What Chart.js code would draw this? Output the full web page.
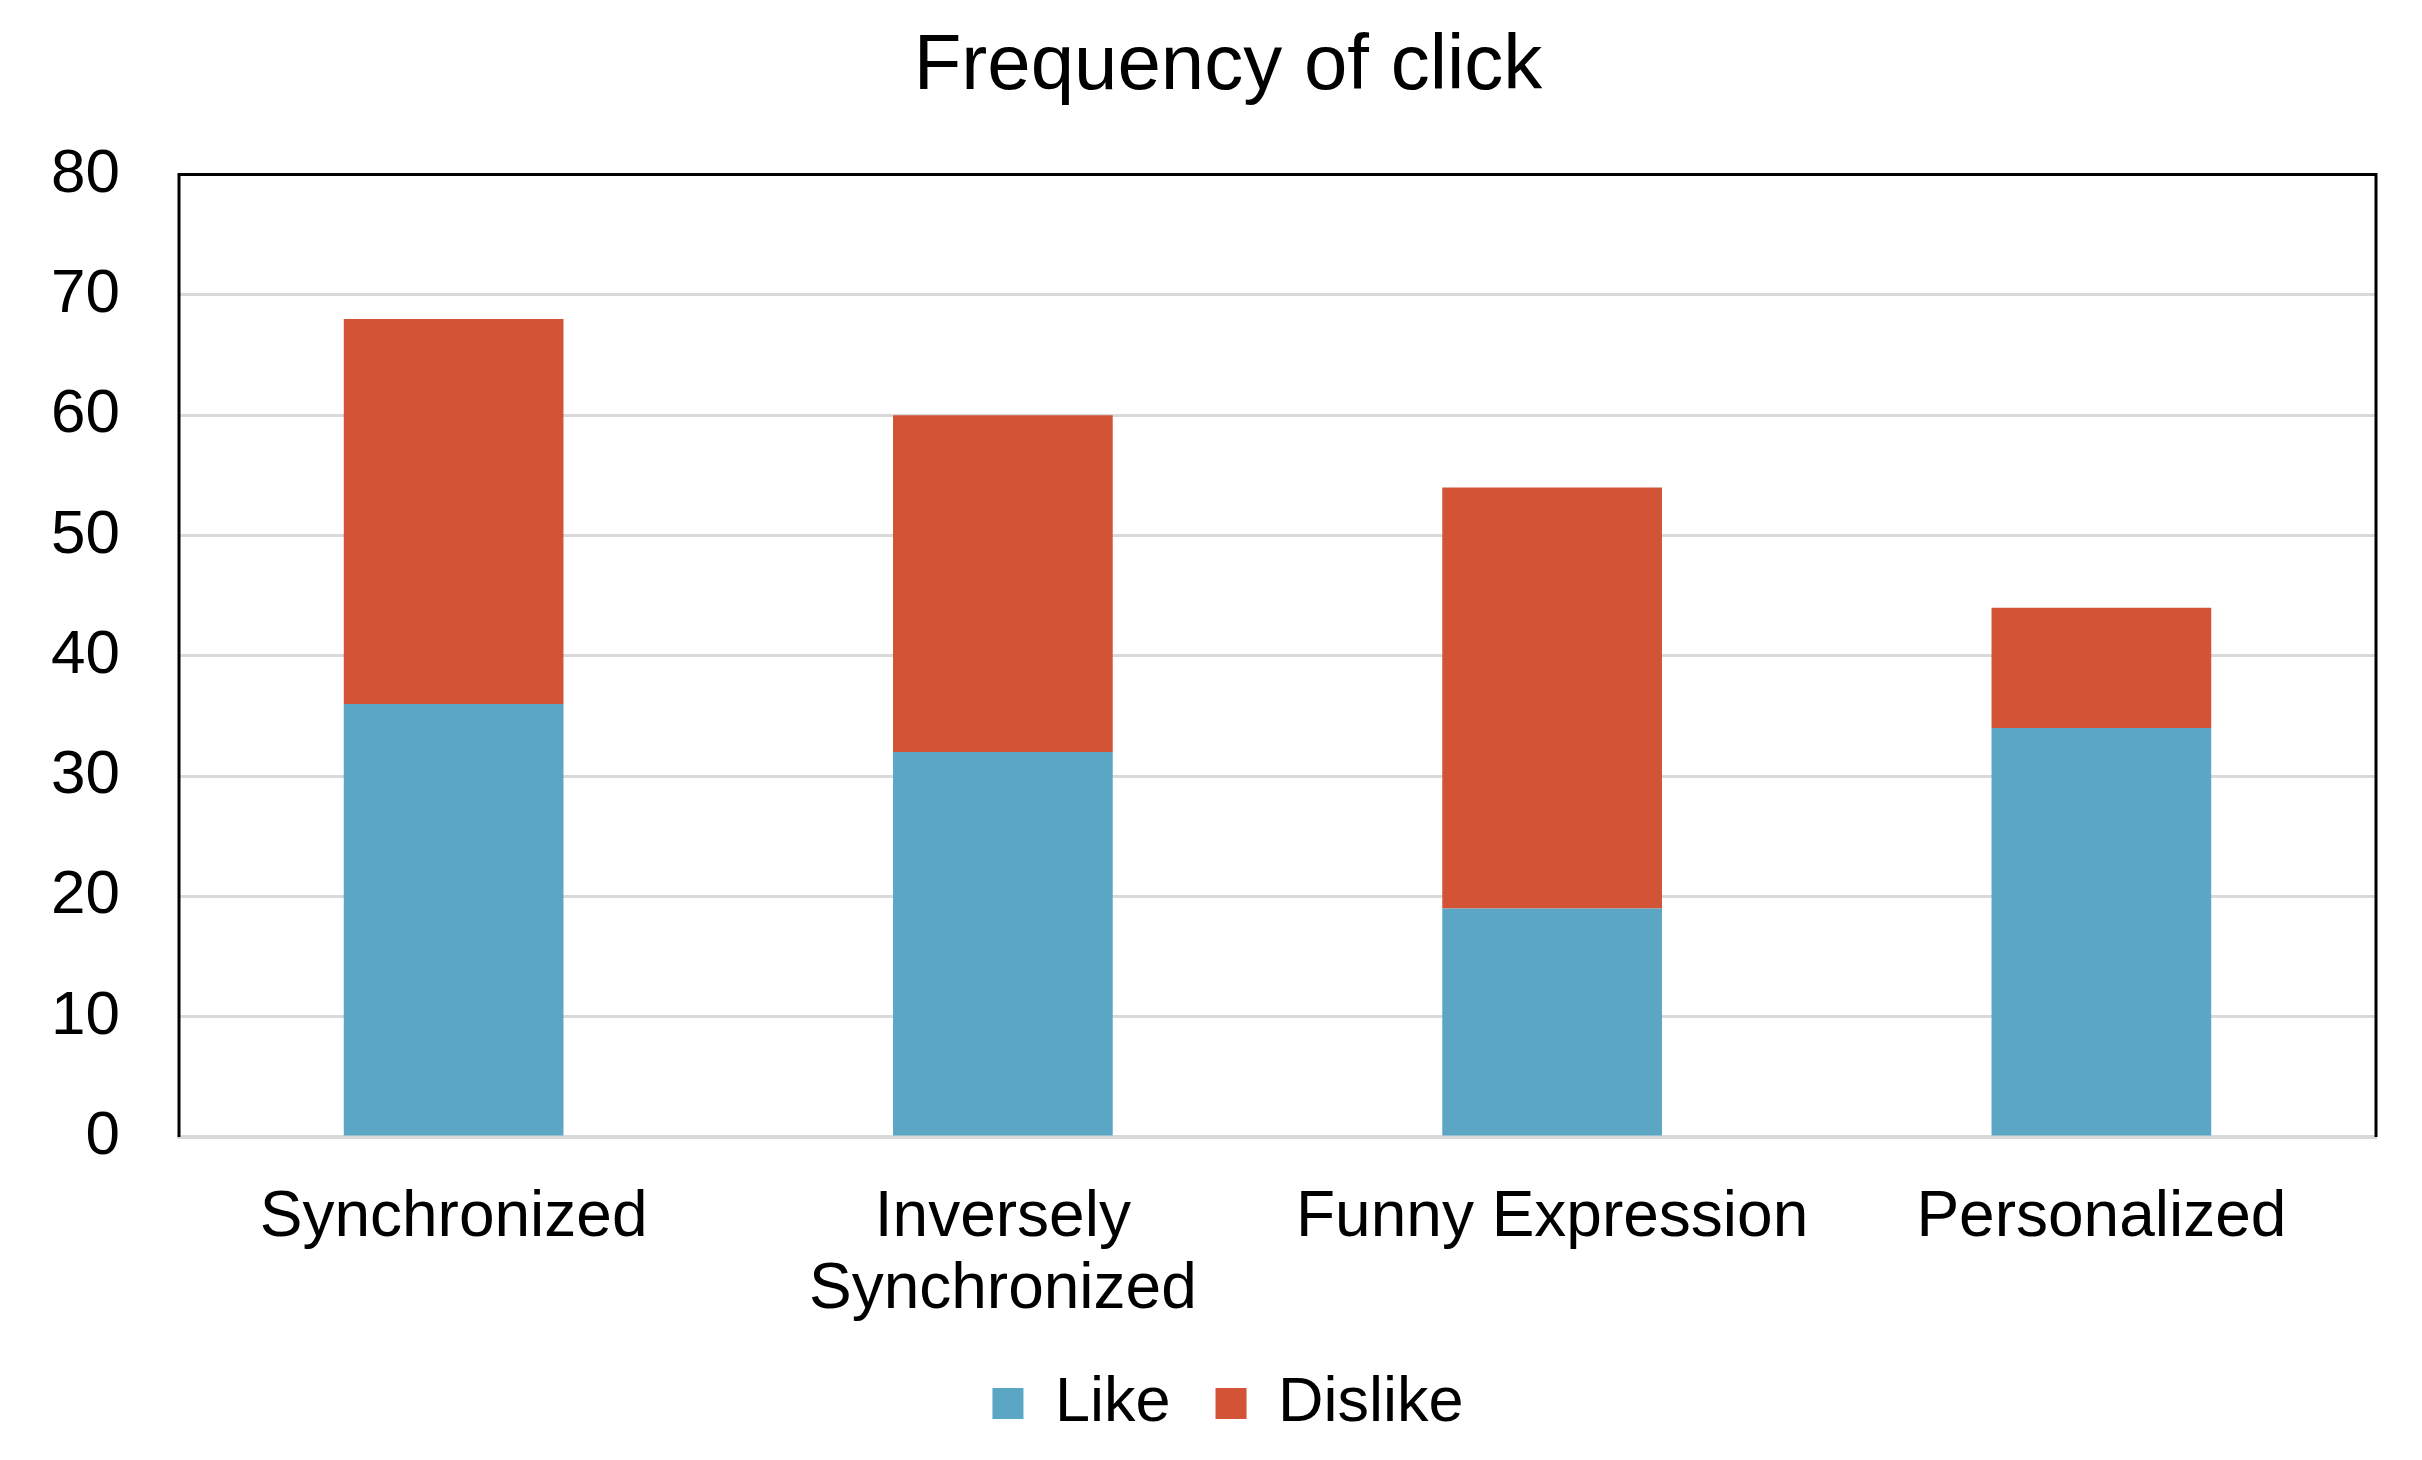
<!DOCTYPE html>
<html>
<head>
<meta charset="utf-8">
<script src="https://cdn.jsdelivr.net/npm/chart.js@4"></script>
<style>
  html,body{margin:0;padding:0;background:#fff;}
  #wrap{width:2422px;height:1460px;}
</style>
</head>
<body>
<div id="wrap"><canvas id="c" width="2422" height="1460"></canvas></div>
<script>
const categories = ['Synchronized', ['Inversely', 'Synchronized'], 'Funny Expression', 'Personalized'];
const likeValues = [36, 32, 19, 34];
const dislikeValues = [32, 28, 35, 10];
const yTicks = [0, 10, 20, 30, 40, 50, 60, 70, 80];

const FONT = '"Liberation Sans", Arial, Helvetica, sans-serif';

// draws the black frame on top, left and right of the plot area
const frame = {
  id: 'frame',
  afterDraw(chart){
    const a = chart.chartArea, ctx = chart.ctx;
    ctx.save();
    ctx.strokeStyle = '#000';
    ctx.lineWidth = 3;
    ctx.beginPath();
    ctx.moveTo(a.left, a.bottom);
    ctx.lineTo(a.left, a.top);
    ctx.lineTo(a.right, a.top);
    ctx.lineTo(a.right, a.bottom);
    ctx.stroke();
    ctx.restore();
  }
};

new Chart(document.getElementById('c'), {
  type: 'bar',
  data: {
    labels: categories,
    datasets: [
      { label: 'Like', data: likeValues, backgroundColor: '#5BA5C5', barPercentage: 0.4, categoryPercentage: 1 },
      { label: 'Dislike', data: dislikeValues, backgroundColor: '#D35336', barPercentage: 0.4, categoryPercentage: 1 }
    ]
  },
  options: {
    responsive: false,
    animation: false,
    layout: { padding: { left: 80, right: 46, top: 0, bottom: 15 } },
    plugins: {
      title: {
        display: true,
        text: 'Frequency of click',
        color: '#000',
        font: { family: FONT, size: 78, weight: 'normal' },
        padding: { top: 21, bottom: 60 }
      },
      legend: {
        position: 'bottom',
        labels: {
          color: '#000',
          font: { family: FONT, size: 63 },
          boxWidth: 31, boxHeight: 31,
          padding: 10,
          generateLabels(chart){
            const items = Chart.defaults.plugins.legend.labels.generateLabels(chart);
            // a bit more room between the two entries
            items.forEach((it, i) => { if(i < items.length - 1) it.text += '  '; });
            return items;
          }
        }
      },
      tooltip: { enabled: false }
    },
    scales: {
      x: {
        stacked: true,
        grid: { display: false, drawTicks: false },
        border: { color: '#d9d9d9', width: 4 },
        ticks: {
          color: '#000',
          font: { family: FONT, size: 64, lineHeight: 1.125 },
          padding: 45,
          maxRotation: 0, autoSkip: false
        },
        afterFit(s){ s.height = 225; }
      },
      y: {
        stacked: true,
        min: 0, max: 80,
        afterBuildTicks(s){ s.ticks = yTicks.map(v => ({ value: v })); },
        grid: { color: '#d9d9d9', lineWidth: 3, drawTicks: false },
        border: { display: false },
        ticks: {
          color: '#000',
          font: { family: FONT, size: 62 },
          // mirrored so the labels are not clipped to the narrow axis box
          mirror: true,
          crossAlign: 'far',
          padding: -128
        },
        afterFit(s){ s.width = 99; }
      }
    }
  },
  plugins: [frame]
});
</script>
</body>
</html>
